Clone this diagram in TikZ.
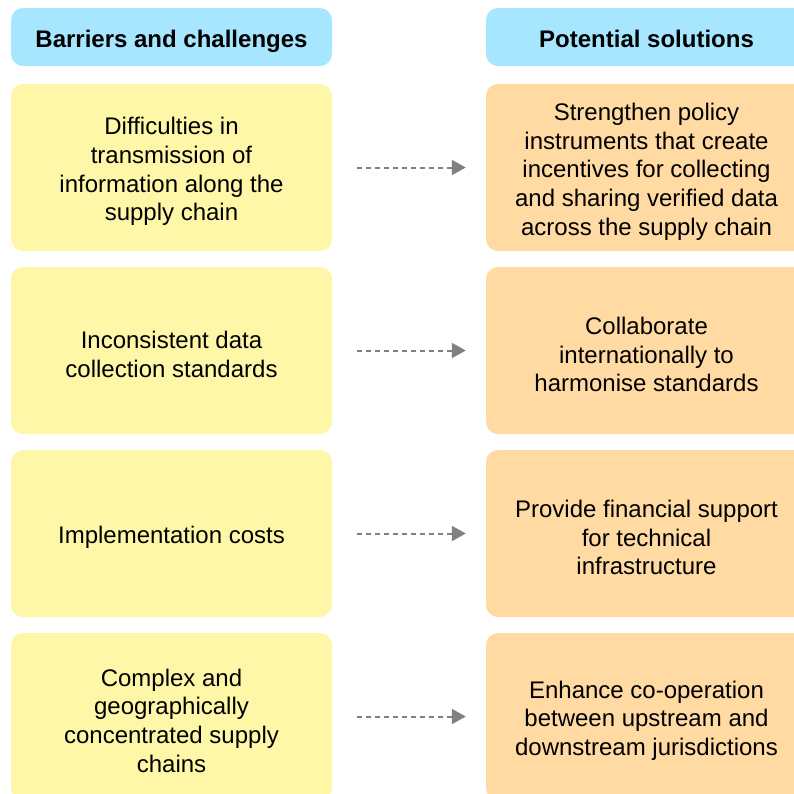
\documentclass[tikz,border=0pt]{standalone}
\usepackage{fontspec}
\setmainfont{Liberation Sans}
\usetikzlibrary{arrows.meta}
\definecolor{headblue}{HTML}{A6E7FF}
\definecolor{barrieryellow}{HTML}{FFF7A8}
\definecolor{solutionorange}{HTML}{FFDAA2}
\definecolor{linkgray}{HTML}{808080}
\begin{document}
\begin{tikzpicture}[
            x = 1pt, y = -1pt, % pixel-like units, y going down
            box/.style = {rounded corners=12pt, minimum width=321pt, inner sep=0pt},
            txt/.style = {align=center, yshift=-4pt, font=\fontsize{24}{28.7}\selectfont},
            head/.style = {box, fill=headblue, minimum height=58pt, text height=22pt, text depth=2pt,
                           font=\fontsize{24}{28.7}\selectfont\bfseries},
            barrier/.style = {box, fill=barrieryellow, minimum height=167pt},
            solution/.style = {box, fill=solutionorange, minimum height=167pt},
            link/.style = {draw=linkgray, line width=2pt, dash pattern=on 5pt off 4pt,
                           -{Triangle[length=14pt, width=15pt]},
                           shorten < = 25pt, shorten > = 20pt}, % gap to the boxes
        ]
        \useasboundingbox (0,0) rectangle (794,793);
        \clip (0,0) rectangle (794,793);
        % column headers
        \node[head] (hb) at (171.5, 37){Barriers and challenges};
        \node[head] (hs) at (646.5, 37){Potential solutions};
        % barriers
        \node[barrier, label={[txt]center:{Difficulties in\\transmission of\\information along the\\supply chain}}] (b1) at (171.5, 167.5){};
        \node[barrier, label={[txt]center:{Inconsistent data\\collection standards}}] (b2) at (171.5, 350.5){};
        \node[barrier, label={[txt]center:{Implementation costs}}] (b3) at (171.5, 533.5){};
        \node[barrier, label={[txt]center:{Complex and\\geographically\\concentrated supply\\chains}}] (b4) at (171.5, 716.5){};
        % solutions
        \node[solution, label={[txt]center:{Strengthen policy\\instruments that create\\incentives for collecting\\and sharing verified data\\across the supply chain}}] (s1) at (646.5, 167.5){};
        \node[solution, label={[txt]center:{Collaborate\\internationally to\\harmonise standards}}] (s2) at (646.5, 350.5){};
        \node[solution, label={[txt]center:{Provide financial support\\for technical\\infrastructure}}] (s3) at (646.5, 533.5){};
        \node[solution, label={[txt]center:{Enhance co-operation\\between upstream and\\downstream jurisdictions}}] (s4) at (646.5, 716.5){};
        \foreach \i in {1,...,4}
            \draw[link] (b\i) -- (s\i);
        \end{tikzpicture}
\end{document}
